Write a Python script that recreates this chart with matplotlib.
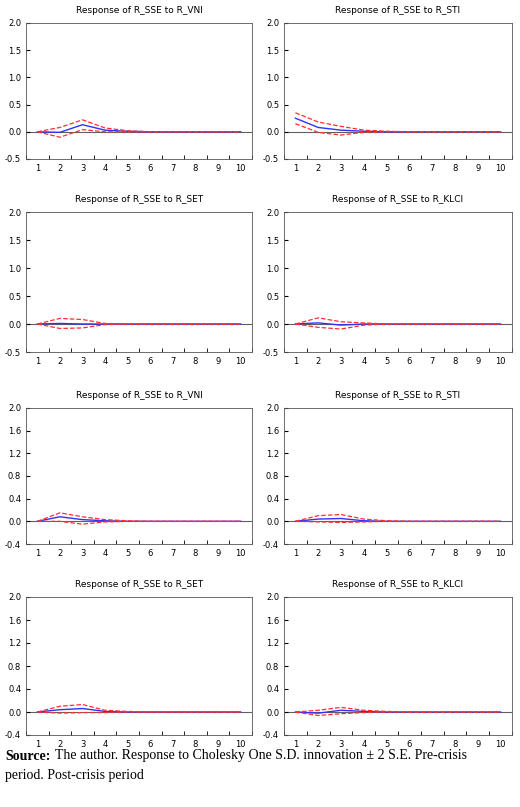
import numpy as np
import matplotlib
matplotlib.use('Agg')
import matplotlib.pyplot as plt

periods = np.arange(1, 11)
titles = ['Response of R_SSE to R_VNI', 'Response of R_SSE to R_STI',
          'Response of R_SSE to R_SET', 'Response of R_SSE to R_KLCI',
          'Response of R_SSE to R_VNI', 'Response of R_SSE to R_STI',
          'Response of R_SSE to R_SET', 'Response of R_SSE to R_KLCI']

resp = [
    [0.0, -0.01, 0.13, 0.03, 0.01, 0.0, 0, 0, 0, 0],
    [0.25, 0.08, 0.03, 0.01, 0.0, 0, 0, 0, 0, 0],
    [0.0, 0.01, 0.0, 0.0, 0, 0, 0, 0, 0, 0],
    [0.0, 0.02, -0.02, 0.0, 0.0, 0, 0, 0, 0, 0],
    [0.0, 0.08, 0.03, 0.01, 0.0, 0, 0, 0, 0, 0],
    [0.0, 0.04, 0.05, 0.01, 0.0, 0, 0, 0, 0, 0],
    [0.0, 0.04, 0.06, 0.01, 0.0, 0, 0, 0, 0, 0],
    [0.0, -0.02, 0.03, 0.01, 0.0, 0, 0, 0, 0, 0],
]
upper = [
    [0.0, 0.08, 0.22, 0.07, 0.02, 0.0, 0, 0, 0, 0],
    [0.35, 0.18, 0.1, 0.03, 0.01, 0, 0, 0, 0, 0],
    [0.0, 0.1, 0.08, 0.01, 0, 0, 0, 0, 0, 0],
    [0.0, 0.11, 0.04, 0.02, 0.0, 0, 0, 0, 0, 0],
    [0.0, 0.15, 0.08, 0.03, 0.01, 0, 0, 0, 0, 0],
    [0.0, 0.1, 0.12, 0.04, 0.01, 0, 0, 0, 0, 0],
    [0.0, 0.1, 0.13, 0.03, 0.01, 0, 0, 0, 0, 0],
    [0.0, 0.03, 0.08, 0.03, 0.01, 0, 0, 0, 0, 0],
]
lower = [
    [0.0, -0.1, 0.04, 0.0, 0.0, 0.0, 0, 0, 0, 0],
    [0.15, -0.01, -0.06, -0.01, 0.0, 0, 0, 0, 0, 0],
    [0.0, -0.08, -0.07, -0.01, 0, 0, 0, 0, 0, 0],
    [0.0, -0.06, -0.09, -0.02, 0.0, 0, 0, 0, 0, 0],
    [0.0, 0.0, -0.05, -0.01, 0.0, 0, 0, 0, 0, 0],
    [0.0, -0.01, -0.02, -0.01, 0.0, 0, 0, 0, 0, 0],
    [0.0, -0.02, -0.01, -0.01, 0.0, 0, 0, 0, 0, 0],
    [0.0, -0.06, -0.03, -0.01, 0.0, 0, 0, 0, 0, 0],
]

W, H = 520, 807
fig = plt.figure(figsize=(W / 100, H / 100), dpi=100)
rows_px = [(23, 159), (212, 352), (408, 544), (597, 735)]
cols_px = [(26, 252), (284, 512)]

for k in range(8):
    r, c = divmod(k, 2)
    top, bot = rows_px[r]
    left, right = cols_px[c]
    ax = fig.add_axes([left / W, 1 - bot / H, (right - left) / W, (bot - top) / H])
    ax.plot(periods, resp[k], color='#3030ff', lw=1.0)
    ax.plot(periods, upper[k], color='#ff3030', lw=0.9, ls='--')
    ax.plot(periods, lower[k], color='#ff3030', lw=0.9, ls='--')
    ax.axhline(0, color='#606060', lw=0.8, zorder=0)
    ax.set_xlim(0.5, 10.5)
    if r < 2:
        ax.set_ylim(-0.5, 2.0)
        ax.set_yticks([-0.5, 0.0, 0.5, 1.0, 1.5, 2.0])
    else:
        ax.set_ylim(-0.4, 2.0)
        ax.set_yticks([-0.4, 0.0, 0.4, 0.8, 1.2, 1.6, 2.0])
    ax.yaxis.set_major_formatter(matplotlib.ticker.FormatStrFormatter('%.1f'))
    ax.set_xticks(periods)
    ax.set_xticks(np.arange(0.5, 11, 1), minor=True)
    ax.tick_params(axis='x', which='major', length=0, labelsize=6)
    ax.tick_params(axis='x', which='minor', length=3, direction='in')
    ax.tick_params(axis='y', length=3, labelsize=6, direction='in')
    for s in ax.spines.values():
        s.set_linewidth(0.6)
        s.set_color('#555555')
    ax.set_title(titles[k], fontsize=6.5, pad=7)

y1 = 1 - 756 / H
t = fig.text(0.01, y1, 'Source:', fontsize=10, family='Liberation Serif',
             weight='bold', va='center')
fig.text(0.01 + 50 / W, y1, 'The author. Response to Cholesky One S.D. innovation \u00b1 2 S.E. Pre-crisis',
         fontsize=10, family='Liberation Serif', va='center')
fig.text(0.01, 1 - 776 / H, 'period. Post-crisis period', fontsize=10,
         family='Liberation Serif', va='center')

plt.savefig('out.png', dpi=100)
